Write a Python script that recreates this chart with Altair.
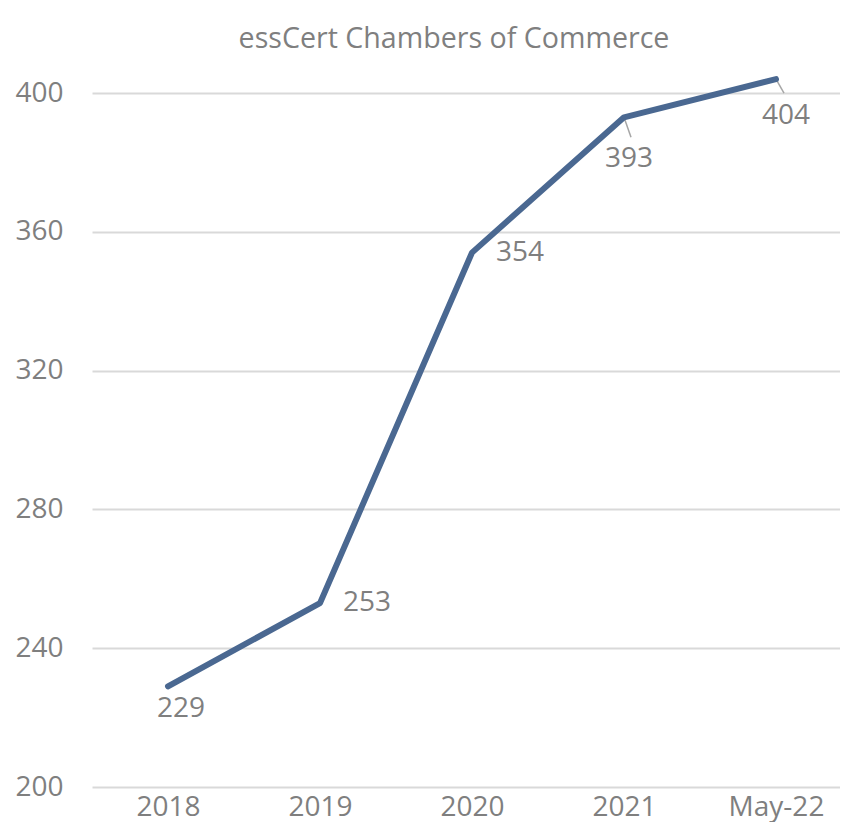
import altair as alt
import pandas as pd

periods = ["2018", "2019", "2020", "2021", "May-22"]
counts = [229, 253, 354, 393, 404]
y_ticks = [200, 240, 280, 320, 360, 400]
title_text = "essCert Chambers of Commerce"

# label offsets (style), keyed by period
label_offsets = {
    "2018": (13, 23),
    "2019": (47, 0),
    "2020": (48, 0),
    "2021": (5, 42),
    "May-22": (10, 37),
}
leader_paths = {
    "2021": "M0,0L0.35,1",
    "May-22": "M0,0L0.4,0.7",
}

df = pd.DataFrame({"period": periods, "count": counts})

FONT = "Open Sans"
GRAY = "#7f7f7f"
LINE = "#4a6891"

x_enc = alt.X(
    "period:N",
    sort=periods,
    scale=alt.Scale(type="point", domain=periods, range=[0, 760], padding=0.5),
    axis=alt.Axis(
        title=None, domain=False, ticks=False, grid=False,
        labelFontSize=28, labelColor=GRAY, labelFont=FONT, labelPadding=6,
        labelAngle=0,
    ),
)
y_enc = alt.Y(
    "count:Q",
    scale=alt.Scale(domain=[200, 400], nice=False, zero=False),
    axis=alt.Axis(
        title=None, domain=False, ticks=False, values=y_ticks,
        grid=True, gridColor="#d9d9d9", gridWidth=2,
        labelFontSize=28, labelColor=GRAY, labelFont=FONT, labelPadding=29,
    ),
)

base = alt.Chart(df)

layers = []
for p, path in leader_paths.items():
    layers.append(
        base.transform_filter(alt.datum.period == p)
        .mark_point(shape=path, size=1600, filled=False, stroke="#a6a6a6", strokeWidth=1.5, opacity=1)
        .encode(x=x_enc, y=y_enc)
    )

layers.append(
    base.mark_line(color=LINE, strokeWidth=6, strokeCap="round", strokeJoin="round")
    .encode(x=x_enc, y=y_enc)
)

for p, (dx, dy) in label_offsets.items():
    layers.append(
        base.transform_filter(alt.datum.period == p)
        .mark_text(font=FONT, fontSize=28, color=GRAY, dx=dx, dy=dy, align="center", baseline="middle")
        .encode(x=x_enc, y=y_enc, text=alt.Text("count:Q"))
    )

chart = alt.layer(*layers).properties(
    width=748,
    height=694,
    padding={"left": 84, "top": 85, "right": 0, "bottom": 35},
    autosize=alt.AutoSizeParams(type="none"),
    title=alt.TitleParams(
        title_text, fontSize=28.6, font=FONT, color=GRAY, fontWeight="normal",
        anchor="middle", offset=23, dx=-12,
    ),
).configure_view(stroke=None)

chart.save("out.html", embed_options={"renderer": "svg", "actions": False})
